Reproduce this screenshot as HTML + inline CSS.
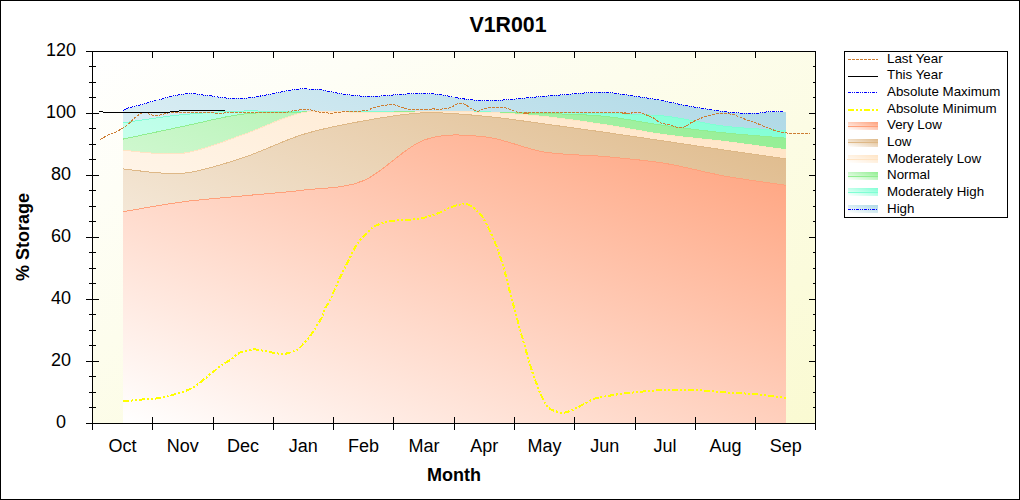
<!DOCTYPE html>
<html><head><meta charset="utf-8"><style>
html,body{margin:0;padding:0;background:#fff;}
body{width:1020px;height:500px;overflow:hidden;}
svg{display:block;}
text{font-family:"Liberation Sans",sans-serif;fill:#000;}
</style></head><body>
<svg width="1020" height="500" viewBox="0 0 1020 500">
<defs>
<linearGradient id="gbg" x1="0" y1="0" x2="1" y2="1"><stop offset="0" stop-color="#ffffff"/><stop offset="1" stop-color="rgb(250,250,210)"/></linearGradient>
<linearGradient id="g_vlow" x1="0" y1="1" x2="1" y2="0"><stop offset="0" stop-color="#ffffff"/><stop offset="1" stop-color="rgb(255,160,122)"/></linearGradient>
<linearGradient id="g_low" x1="0" y1="1" x2="1" y2="0"><stop offset="0" stop-color="#ffffff"/><stop offset="1" stop-color="rgb(222,184,135)"/></linearGradient>
<linearGradient id="g_mlow" x1="0" y1="1" x2="1" y2="0"><stop offset="0" stop-color="#ffffff"/><stop offset="1" stop-color="rgb(255,228,196)"/></linearGradient>
<linearGradient id="g_normal" x1="0" y1="1" x2="1" y2="0"><stop offset="0" stop-color="#ffffff"/><stop offset="1" stop-color="rgb(144,238,144)"/></linearGradient>
<linearGradient id="g_mhigh" x1="0" y1="1" x2="1" y2="0"><stop offset="0" stop-color="#ffffff"/><stop offset="1" stop-color="rgb(127,255,212)"/></linearGradient>
<linearGradient id="g_high" x1="0" y1="1" x2="1" y2="0"><stop offset="0" stop-color="#ffffff"/><stop offset="1" stop-color="rgb(173,216,230)"/></linearGradient>
<clipPath id="clipPlot"><rect x="92" y="51" width="724" height="373"/></clipPath>
</defs>
<rect x="0.5" y="0.5" width="1019" height="499" fill="#fff" stroke="#000" stroke-width="1"/>
<text x="508" y="32" font-size="21.33" font-weight="bold" text-anchor="middle">V1R001</text>
<rect x="92" y="51" width="723" height="372" fill="url(#gbg)"/>
<g clip-path="url(#clipPlot)">
<path d="M123.00,110.40 C124.17,109.92 127.17,108.38 130.00,107.50 C132.83,106.62 136.67,106.02 140.00,105.10 C143.33,104.18 146.67,102.92 150.00,102.00 C153.33,101.08 156.67,100.48 160.00,99.60 C163.33,98.72 166.67,97.52 170.00,96.70 C173.33,95.88 176.67,95.25 180.00,94.70 C183.33,94.15 186.67,93.40 190.00,93.40 C193.33,93.40 196.67,94.32 200.00,94.70 C203.33,95.08 206.67,95.27 210.00,95.70 C213.33,96.13 216.67,96.87 220.00,97.30 C223.33,97.73 226.67,98.13 230.00,98.30 C233.33,98.47 236.67,98.40 240.00,98.30 C243.33,98.20 246.67,98.07 250.00,97.70 C253.33,97.33 256.67,96.68 260.00,96.10 C263.33,95.52 266.67,94.85 270.00,94.20 C273.33,93.55 276.67,92.87 280.00,92.20 C283.33,91.53 286.67,90.75 290.00,90.20 C293.33,89.65 297.50,89.18 300.00,88.90 C302.50,88.62 303.33,88.43 305.00,88.50 C306.67,88.57 307.50,89.12 310.00,89.30 C312.50,89.48 315.00,88.88 320.00,89.60 C325.00,90.32 333.33,92.53 340.00,93.60 C346.67,94.67 353.33,95.60 360.00,96.00 C366.67,96.40 373.33,96.27 380.00,96.00 C386.67,95.73 393.33,94.83 400.00,94.40 C406.67,93.97 413.33,93.37 420.00,93.40 C426.67,93.43 433.33,93.77 440.00,94.60 C446.67,95.43 453.33,97.43 460.00,98.40 C466.67,99.37 473.33,100.10 480.00,100.40 C486.67,100.70 493.33,100.50 500.00,100.20 C506.67,99.90 513.33,99.20 520.00,98.60 C526.67,98.00 533.33,97.20 540.00,96.60 C546.67,96.00 553.33,95.53 560.00,95.00 C566.67,94.47 575.00,93.80 580.00,93.40 C585.00,93.00 585.00,92.73 590.00,92.60 C595.00,92.47 605.00,92.37 610.00,92.60 C615.00,92.83 615.00,93.27 620.00,94.00 C625.00,94.73 633.33,96.00 640.00,97.00 C646.67,98.00 653.33,98.77 660.00,100.00 C666.67,101.23 673.33,103.07 680.00,104.40 C686.67,105.73 693.33,106.90 700.00,108.00 C706.67,109.10 713.33,110.17 720.00,111.00 C726.67,111.83 733.33,112.67 740.00,113.00 C746.67,113.33 755.67,113.17 760.00,113.00 C764.33,112.83 761.67,112.17 766.00,112.00 C770.33,111.83 782.67,112.00 786.00,112.00 L786,423 L123,423 Z" fill="url(#g_high)" shape-rendering="crispEdges"/>
<path d="M123.00,122.83 C132.96,121.46 162.75,116.56 182.75,114.59 C202.75,112.62 222.92,111.46 243.00,111.03 C263.08,110.60 283.17,111.84 303.25,112.00 C323.33,112.16 343.42,111.97 363.50,111.97 C383.58,111.97 403.67,112.03 423.75,112.03 C443.83,112.03 463.92,111.86 484.00,111.95 C504.08,112.04 524.17,112.29 544.25,112.56 C564.33,112.83 584.42,112.96 604.50,113.55 C624.58,114.14 644.67,113.96 664.75,116.08 C684.83,118.20 704.79,123.86 725.00,126.28 C745.21,128.70 775.83,129.89 786.00,130.61 L786,423 L123,423 Z" fill="url(#g_mhigh)" shape-rendering="crispEdges"/>
<path d="M123.00,122.83 C132.96,121.46 162.75,116.56 182.75,114.59 C202.75,112.62 222.92,111.46 243.00,111.03 C263.08,110.60 283.17,111.84 303.25,112.00 C323.33,112.16 343.42,111.97 363.50,111.97 C383.58,111.97 403.67,112.03 423.75,112.03 C443.83,112.03 463.92,111.86 484.00,111.95 C504.08,112.04 524.17,112.29 544.25,112.56 C564.33,112.83 584.42,112.96 604.50,113.55 C624.58,114.14 644.67,113.96 664.75,116.08 C684.83,118.20 704.79,123.86 725.00,126.28 C745.21,128.70 775.83,129.89 786.00,130.61" fill="none" stroke="rgb(127,255,212)" stroke-width="1" shape-rendering="crispEdges"/>
<path d="M123.00,139.11 C132.96,137.00 162.75,130.64 182.75,126.47 C202.75,122.30 222.92,116.52 243.00,114.11 C263.08,111.70 283.17,112.33 303.25,111.99 C323.33,111.65 343.42,112.06 363.50,112.06 C383.58,112.06 403.67,111.96 423.75,111.98 C443.83,112.00 463.92,111.91 484.00,112.16 C504.08,112.41 524.17,112.79 544.25,113.48 C564.33,114.17 584.42,114.30 604.50,116.32 C624.58,118.34 644.67,122.82 664.75,125.59 C684.83,128.36 704.79,130.84 725.00,132.94 C745.21,135.03 775.83,137.29 786.00,138.16 L786,423 L123,423 Z" fill="url(#g_normal)" shape-rendering="crispEdges"/>
<path d="M123.00,139.11 C132.96,137.00 162.75,130.64 182.75,126.47 C202.75,122.30 222.92,116.52 243.00,114.11 C263.08,111.70 283.17,112.33 303.25,111.99 C323.33,111.65 343.42,112.06 363.50,112.06 C383.58,112.06 403.67,111.96 423.75,111.98 C443.83,112.00 463.92,111.91 484.00,112.16 C504.08,112.41 524.17,112.79 544.25,113.48 C564.33,114.17 584.42,114.30 604.50,116.32 C624.58,118.34 644.67,122.82 664.75,125.59 C684.83,128.36 704.79,130.84 725.00,132.94 C745.21,135.03 775.83,137.29 786.00,138.16" fill="none" stroke="rgb(144,238,144)" stroke-width="1" shape-rendering="crispEdges"/>
<path d="M123.00,150.30 C132.96,150.80 162.75,155.89 182.75,153.29 C202.75,150.69 222.92,141.48 243.00,134.70 C263.08,127.92 283.17,116.33 303.25,112.62 C323.33,108.91 343.42,112.56 363.50,112.45 C383.58,112.34 403.67,111.98 423.75,111.95 C443.83,111.92 463.92,111.51 484.00,112.27 C504.08,113.03 524.17,114.42 544.25,116.49 C564.33,118.56 584.42,121.63 604.50,124.68 C624.58,127.73 644.67,131.96 664.75,134.77 C684.83,137.58 704.79,139.03 725.00,141.53 C745.21,144.03 775.83,148.37 786.00,149.74 L786,423 L123,423 Z" fill="url(#g_mlow)" shape-rendering="crispEdges"/>
<path d="M123.00,150.30 C132.96,150.80 162.75,155.89 182.75,153.29 C202.75,150.69 222.92,141.48 243.00,134.70 C263.08,127.92 283.17,116.33 303.25,112.62 C323.33,108.91 343.42,112.56 363.50,112.45 C383.58,112.34 403.67,111.98 423.75,111.95 C443.83,111.92 463.92,111.51 484.00,112.27 C504.08,113.03 524.17,114.42 544.25,116.49 C564.33,118.56 584.42,121.63 604.50,124.68 C624.58,127.73 644.67,131.96 664.75,134.77 C684.83,137.58 704.79,139.03 725.00,141.53 C745.21,144.03 775.83,148.37 786.00,149.74" fill="none" stroke="rgb(255,228,196)" stroke-width="1" shape-rendering="crispEdges"/>
<path d="M123.00,168.94 C132.96,169.66 162.75,175.15 182.75,173.28 C202.75,171.41 222.92,164.20 243.00,157.72 C263.08,151.24 283.17,140.50 303.25,134.37 C323.33,128.24 343.42,124.51 363.50,120.92 C383.58,117.33 403.67,113.61 423.75,112.81 C443.83,112.02 463.92,114.30 484.00,116.15 C504.08,118.00 524.17,121.20 544.25,123.89 C564.33,126.58 584.42,129.38 604.50,132.26 C624.58,135.13 644.67,138.16 664.75,141.14 C684.83,144.12 704.79,147.17 725.00,150.13 C745.21,153.09 775.83,157.45 786.00,158.91 L786,423 L123,423 Z" fill="url(#g_low)" shape-rendering="crispEdges"/>
<path d="M123.00,168.94 C132.96,169.66 162.75,175.15 182.75,173.28 C202.75,171.41 222.92,164.20 243.00,157.72 C263.08,151.24 283.17,140.50 303.25,134.37 C323.33,128.24 343.42,124.51 363.50,120.92 C383.58,117.33 403.67,113.61 423.75,112.81 C443.83,112.02 463.92,114.30 484.00,116.15 C504.08,118.00 524.17,121.20 544.25,123.89 C564.33,126.58 584.42,129.38 604.50,132.26 C624.58,135.13 644.67,138.16 664.75,141.14 C684.83,144.12 704.79,147.17 725.00,150.13 C745.21,153.09 775.83,157.45 786.00,158.91" fill="none" stroke="rgb(222,184,135)" stroke-width="1" shape-rendering="crispEdges"/>
<path d="M123.00,211.77 C132.96,210.12 162.75,204.49 182.75,201.84 C202.75,199.19 222.92,197.84 243.00,195.89 C263.08,193.94 283.17,192.65 303.25,190.12 C323.33,187.59 343.42,189.01 363.50,180.69 C383.58,172.37 403.67,147.51 423.75,140.18 C443.83,132.85 463.92,134.75 484.00,136.72 C504.08,138.69 524.17,148.69 544.25,151.99 C564.33,155.29 584.42,154.63 604.50,156.52 C624.58,158.41 644.67,160.08 664.75,163.35 C684.83,166.62 704.79,172.47 725.00,176.13 C745.21,179.79 775.83,183.77 786.00,185.30 L786,423 L123,423 Z" fill="url(#g_vlow)" shape-rendering="crispEdges"/>
<path d="M123.00,211.77 C132.96,210.12 162.75,204.49 182.75,201.84 C202.75,199.19 222.92,197.84 243.00,195.89 C263.08,193.94 283.17,192.65 303.25,190.12 C323.33,187.59 343.42,189.01 363.50,180.69 C383.58,172.37 403.67,147.51 423.75,140.18 C443.83,132.85 463.92,134.75 484.00,136.72 C504.08,138.69 524.17,148.69 544.25,151.99 C564.33,155.29 584.42,154.63 604.50,156.52 C624.58,158.41 644.67,160.08 664.75,163.35 C684.83,166.62 704.79,172.47 725.00,176.13 C745.21,179.79 775.83,183.77 786.00,185.30" fill="none" stroke="rgb(255,160,122)" stroke-width="1" shape-rendering="crispEdges"/>
<path d="M100.00,139.40 C101.67,138.53 107.50,135.37 110.00,134.20 C112.50,133.03 113.33,133.15 115.00,132.40 C116.67,131.65 118.33,130.67 120.00,129.70 C121.67,128.73 123.33,127.80 125.00,126.60 C126.67,125.40 128.33,124.00 130.00,122.50 C131.67,121.00 133.33,119.02 135.00,117.60 C136.67,116.18 138.50,114.90 140.00,114.00 C141.50,113.10 142.33,112.12 144.00,112.20 C145.67,112.28 148.17,113.95 150.00,114.50 C151.83,115.05 153.33,115.42 155.00,115.50 C156.67,115.58 158.33,115.28 160.00,115.00 C161.67,114.72 163.33,114.18 165.00,113.80 C166.67,113.42 167.50,112.88 170.00,112.70 C172.50,112.52 175.00,112.73 180.00,112.70 C185.00,112.67 194.67,112.52 200.00,112.50 C205.33,112.48 209.33,112.42 212.00,112.60 C214.67,112.78 214.33,113.43 216.00,113.60 C217.67,113.77 220.33,113.73 222.00,113.60 C223.67,113.47 223.00,112.95 226.00,112.80 C229.00,112.65 234.33,112.72 240.00,112.70 C245.67,112.68 252.50,112.77 260.00,112.70 C267.50,112.63 280.00,112.53 285.00,112.30 C290.00,112.07 288.33,111.58 290.00,111.30 C291.67,111.02 292.50,110.93 295.00,110.60 C297.50,110.27 302.50,109.45 305.00,109.30 C307.50,109.15 308.33,109.42 310.00,109.70 C311.67,109.98 313.33,110.60 315.00,111.00 C316.67,111.40 317.50,111.75 320.00,112.10 C322.50,112.45 326.67,113.07 330.00,113.10 C333.33,113.13 337.50,112.60 340.00,112.30 C342.50,112.00 341.67,111.50 345.00,111.30 C348.33,111.10 356.33,111.25 360.00,111.10 C363.67,110.95 364.50,111.05 367.00,110.40 C369.50,109.75 372.00,108.05 375.00,107.20 C378.00,106.35 382.00,105.72 385.00,105.30 C388.00,104.88 390.50,104.45 393.00,104.70 C395.50,104.95 398.00,106.18 400.00,106.80 C402.00,107.42 403.33,107.97 405.00,108.40 C406.67,108.83 405.83,109.23 410.00,109.40 C414.17,109.57 426.17,109.57 430.00,109.40 C433.83,109.23 431.83,108.40 433.00,108.40 C434.17,108.40 434.17,109.50 437.00,109.40 C439.83,109.30 447.00,108.55 450.00,107.80 C453.00,107.05 453.33,105.62 455.00,104.90 C456.67,104.18 458.33,103.57 460.00,103.50 C461.67,103.43 463.33,103.78 465.00,104.50 C466.67,105.22 468.00,106.67 470.00,107.80 C472.00,108.93 474.83,111.10 477.00,111.30 C479.17,111.50 480.83,109.65 483.00,109.00 C485.17,108.35 487.67,107.70 490.00,107.40 C492.33,107.10 494.83,107.20 497.00,107.20 C499.17,107.20 501.00,107.10 503.00,107.40 C505.00,107.70 507.00,108.32 509.00,109.00 C511.00,109.68 513.17,110.92 515.00,111.50 C516.83,112.08 517.83,112.17 520.00,112.50 C522.17,112.83 526.00,113.50 528.00,113.50 C530.00,113.50 516.67,112.67 532.00,112.50 C547.33,112.33 605.00,112.33 620.00,112.50 C635.00,112.67 620.33,113.33 622.00,113.50 C623.67,113.67 628.17,113.67 630.00,113.50 C631.83,113.33 631.33,112.67 633.00,112.50 C634.67,112.33 638.00,112.18 640.00,112.50 C642.00,112.82 643.33,113.73 645.00,114.40 C646.67,115.07 648.33,115.77 650.00,116.50 C651.67,117.23 653.33,117.77 655.00,118.80 C656.67,119.83 657.50,121.67 660.00,122.70 C662.50,123.73 667.00,124.22 670.00,125.00 C673.00,125.78 675.50,127.12 678.00,127.40 C680.50,127.68 683.00,127.38 685.00,126.70 C687.00,126.02 688.00,124.43 690.00,123.30 C692.00,122.17 694.50,121.00 697.00,119.90 C699.50,118.80 702.00,117.68 705.00,116.70 C708.00,115.72 712.17,114.57 715.00,114.00 C717.83,113.43 719.83,113.35 722.00,113.30 C724.17,113.25 725.83,113.40 728.00,113.70 C730.17,114.00 732.17,114.18 735.00,115.10 C737.83,116.02 741.67,117.95 745.00,119.20 C748.33,120.45 751.67,121.35 755.00,122.60 C758.33,123.85 761.67,125.38 765.00,126.70 C768.33,128.02 772.17,129.58 775.00,130.50 C777.83,131.42 780.17,131.85 782.00,132.20 C783.83,132.55 784.83,132.38 786.00,132.60 C787.17,132.82 786.67,133.33 789.00,133.50 C791.33,133.67 796.50,133.58 800.00,133.60 C803.50,133.62 808.33,133.60 810.00,133.60" fill="none" stroke="rgb(205,125,50)" stroke-width="1" stroke-dasharray="3 1" shape-rendering="crispEdges"/>
<path d="M123.00,110.40 C124.17,109.92 127.17,108.38 130.00,107.50 C132.83,106.62 136.67,106.02 140.00,105.10 C143.33,104.18 146.67,102.92 150.00,102.00 C153.33,101.08 156.67,100.48 160.00,99.60 C163.33,98.72 166.67,97.52 170.00,96.70 C173.33,95.88 176.67,95.25 180.00,94.70 C183.33,94.15 186.67,93.40 190.00,93.40 C193.33,93.40 196.67,94.32 200.00,94.70 C203.33,95.08 206.67,95.27 210.00,95.70 C213.33,96.13 216.67,96.87 220.00,97.30 C223.33,97.73 226.67,98.13 230.00,98.30 C233.33,98.47 236.67,98.40 240.00,98.30 C243.33,98.20 246.67,98.07 250.00,97.70 C253.33,97.33 256.67,96.68 260.00,96.10 C263.33,95.52 266.67,94.85 270.00,94.20 C273.33,93.55 276.67,92.87 280.00,92.20 C283.33,91.53 286.67,90.75 290.00,90.20 C293.33,89.65 297.50,89.18 300.00,88.90 C302.50,88.62 303.33,88.43 305.00,88.50 C306.67,88.57 307.50,89.12 310.00,89.30 C312.50,89.48 315.00,88.88 320.00,89.60 C325.00,90.32 333.33,92.53 340.00,93.60 C346.67,94.67 353.33,95.60 360.00,96.00 C366.67,96.40 373.33,96.27 380.00,96.00 C386.67,95.73 393.33,94.83 400.00,94.40 C406.67,93.97 413.33,93.37 420.00,93.40 C426.67,93.43 433.33,93.77 440.00,94.60 C446.67,95.43 453.33,97.43 460.00,98.40 C466.67,99.37 473.33,100.10 480.00,100.40 C486.67,100.70 493.33,100.50 500.00,100.20 C506.67,99.90 513.33,99.20 520.00,98.60 C526.67,98.00 533.33,97.20 540.00,96.60 C546.67,96.00 553.33,95.53 560.00,95.00 C566.67,94.47 575.00,93.80 580.00,93.40 C585.00,93.00 585.00,92.73 590.00,92.60 C595.00,92.47 605.00,92.37 610.00,92.60 C615.00,92.83 615.00,93.27 620.00,94.00 C625.00,94.73 633.33,96.00 640.00,97.00 C646.67,98.00 653.33,98.77 660.00,100.00 C666.67,101.23 673.33,103.07 680.00,104.40 C686.67,105.73 693.33,106.90 700.00,108.00 C706.67,109.10 713.33,110.17 720.00,111.00 C726.67,111.83 733.33,112.67 740.00,113.00 C746.67,113.33 755.67,113.17 760.00,113.00 C764.33,112.83 761.67,112.17 766.00,112.00 C770.33,111.83 782.67,112.00 786.00,112.00" fill="none" stroke="#0000ff" stroke-width="1" stroke-dasharray="3 1 1 1 1 1" shape-rendering="crispEdges"/>
<path d="M123.00,401.40 C125.83,401.12 133.83,400.27 140.00,399.70 C146.17,399.13 154.17,398.90 160.00,398.00 C165.83,397.10 170.00,395.80 175.00,394.30 C180.00,392.80 185.83,390.97 190.00,389.00 C194.17,387.03 196.67,384.93 200.00,382.50 C203.33,380.07 206.67,377.05 210.00,374.40 C213.33,371.75 216.67,369.00 220.00,366.60 C223.33,364.20 226.67,362.33 230.00,360.00 C233.33,357.67 236.67,354.27 240.00,352.60 C243.33,350.93 247.50,350.53 250.00,350.00 C252.50,349.47 252.50,349.23 255.00,349.40 C257.50,349.57 261.67,350.40 265.00,351.00 C268.33,351.60 271.67,352.53 275.00,353.00 C278.33,353.47 281.67,354.20 285.00,353.80 C288.33,353.40 292.50,351.65 295.00,350.60 C297.50,349.55 297.50,349.93 300.00,347.50 C302.50,345.07 306.50,340.79 310.00,336.00 C313.50,331.21 318.50,323.29 321.00,318.75 C323.50,314.21 323.50,311.88 325.00,308.75 C326.50,305.62 328.33,303.33 330.00,300.00 C331.67,296.67 333.33,292.50 335.00,288.75 C336.67,285.00 338.33,281.04 340.00,277.50 C341.67,273.96 343.33,270.83 345.00,267.50 C346.67,264.17 348.33,260.83 350.00,257.50 C351.67,254.17 353.33,250.42 355.00,247.50 C356.67,244.58 358.33,242.08 360.00,240.00 C361.67,237.92 363.33,236.67 365.00,235.00 C366.67,233.33 368.33,231.50 370.00,230.00 C371.67,228.50 372.50,227.25 375.00,226.00 C377.50,224.75 381.67,223.42 385.00,222.50 C388.33,221.58 391.67,220.92 395.00,220.50 C398.33,220.08 400.83,220.29 405.00,220.00 C409.17,219.71 415.83,219.42 420.00,218.75 C424.17,218.08 426.67,217.04 430.00,216.00 C433.33,214.96 436.67,213.92 440.00,212.50 C443.33,211.08 446.67,208.83 450.00,207.50 C453.33,206.17 457.50,205.04 460.00,204.50 C462.50,203.96 463.33,204.08 465.00,204.25 C466.67,204.42 467.50,203.92 470.00,205.50 C472.50,207.08 477.17,210.50 480.00,213.75 C482.83,217.00 484.50,220.21 487.00,225.00 C489.50,229.79 492.83,237.33 495.00,242.50 C497.17,247.67 498.33,251.00 500.00,256.00 C501.67,261.00 503.33,266.42 505.00,272.50 C506.67,278.58 508.33,286.08 510.00,292.50 C511.67,298.92 513.33,304.85 515.00,311.00 C516.67,317.15 518.33,323.40 520.00,329.40 C521.67,335.40 523.33,341.12 525.00,347.00 C526.67,352.88 528.33,359.30 530.00,364.70 C531.67,370.10 533.33,374.75 535.00,379.40 C536.67,384.05 538.33,388.67 540.00,392.60 C541.67,396.53 543.33,400.30 545.00,403.00 C546.67,405.70 548.33,407.47 550.00,408.80 C551.67,410.13 553.33,410.37 555.00,411.00 C556.67,411.63 558.33,412.33 560.00,412.60 C561.67,412.87 563.33,412.87 565.00,412.60 C566.67,412.33 568.33,411.63 570.00,411.00 C571.67,410.37 572.50,410.05 575.00,408.80 C577.50,407.55 581.67,405.22 585.00,403.50 C588.33,401.78 591.67,399.67 595.00,398.50 C598.33,397.33 600.83,397.25 605.00,396.50 C609.17,395.75 614.17,394.78 620.00,394.00 C625.83,393.22 633.33,392.42 640.00,391.80 C646.67,391.18 653.33,390.65 660.00,390.30 C666.67,389.95 673.33,389.70 680.00,389.70 C686.67,389.70 693.33,389.92 700.00,390.30 C706.67,390.68 713.33,391.52 720.00,392.00 C726.67,392.48 733.33,392.75 740.00,393.20 C746.67,393.65 754.17,394.15 760.00,394.70 C765.83,395.25 770.67,395.95 775.00,396.50 C779.33,397.05 784.17,397.75 786.00,398.00" fill="none" stroke="#ffff00" stroke-width="2" stroke-dasharray="6 2 2 2 2 2" shape-rendering="crispEdges"/>
<path d="M99,111.5 L103,111.5 M103,112.5 L170,112.5 M170,111.5 L179,111.5 M179,110.5 L225,110.5" fill="none" stroke="#000" stroke-width="1" shape-rendering="crispEdges"/>
</g>
<path d="M86,51.5 L815,51.5 M86,423.5 L815,423.5 M92.5,51 L92.5,430 M815.5,51 L815.5,424 M86,423.5 L99,423.5 M809,423.5 L815,423.5 M89,407.5 L96,407.5 M813,407.5 L815,407.5 M89,392.5 L96,392.5 M813,392.5 L815,392.5 M89,376.5 L96,376.5 M813,376.5 L815,376.5 M86,361.5 L99,361.5 M809,361.5 L815,361.5 M89,345.5 L96,345.5 M813,345.5 L815,345.5 M89,330.5 L96,330.5 M813,330.5 L815,330.5 M89,314.5 L96,314.5 M813,314.5 L815,314.5 M86,299.5 L99,299.5 M809,299.5 L815,299.5 M89,283.5 L96,283.5 M813,283.5 L815,283.5 M89,268.5 L96,268.5 M813,268.5 L815,268.5 M89,252.5 L96,252.5 M813,252.5 L815,252.5 M86,237.5 L99,237.5 M809,237.5 L815,237.5 M89,221.5 L96,221.5 M813,221.5 L815,221.5 M89,206.5 L96,206.5 M813,206.5 L815,206.5 M89,190.5 L96,190.5 M813,190.5 L815,190.5 M86,175.5 L99,175.5 M809,175.5 L815,175.5 M89,159.5 L96,159.5 M813,159.5 L815,159.5 M89,144.5 L96,144.5 M813,144.5 L815,144.5 M89,128.5 L96,128.5 M813,128.5 L815,128.5 M86,113.5 L99,113.5 M809,113.5 L815,113.5 M89,97.5 L96,97.5 M813,97.5 L815,97.5 M89,82.5 L96,82.5 M813,82.5 L815,82.5 M89,66.5 L96,66.5 M813,66.5 L815,66.5 M86,51.5 L99,51.5 M809,51.5 L815,51.5 M92.5,417 L92.5,430 M92.5,51 L92.5,58 M152.5,417 L152.5,430 M152.5,51 L152.5,58 M213.5,417 L213.5,430 M213.5,51 L213.5,58 M273.5,417 L273.5,430 M273.5,51 L273.5,58 M333.5,417 L333.5,430 M333.5,51 L333.5,58 M393.5,417 L393.5,430 M393.5,51 L393.5,58 M454.5,417 L454.5,430 M454.5,51 L454.5,58 M514.5,417 L514.5,430 M514.5,51 L514.5,58 M574.5,417 L574.5,430 M574.5,51 L574.5,58 M635.5,417 L635.5,430 M635.5,51 L635.5,58 M695.5,417 L695.5,430 M695.5,51 L695.5,58 M755.5,417 L755.5,430 M755.5,51 L755.5,58 M815.5,417 L815.5,430 M815.5,51 L815.5,58" fill="none" stroke="#000" stroke-width="1" shape-rendering="crispEdges"/>
<text x="61" y="428.00" font-size="18" text-anchor="middle">0</text>
<text x="61" y="366.00" font-size="18" text-anchor="middle">20</text>
<text x="61" y="304.00" font-size="18" text-anchor="middle">40</text>
<text x="61" y="242.00" font-size="18" text-anchor="middle">60</text>
<text x="61" y="180.00" font-size="18" text-anchor="middle">80</text>
<text x="61" y="118.00" font-size="18" text-anchor="middle">100</text>
<text x="61" y="56.00" font-size="18" text-anchor="middle">120</text>
<text x="122.40" y="452" font-size="18" text-anchor="middle">Oct</text>
<text x="182.70" y="452" font-size="18" text-anchor="middle">Nov</text>
<text x="243.00" y="452" font-size="18" text-anchor="middle">Dec</text>
<text x="303.30" y="452" font-size="18" text-anchor="middle">Jan</text>
<text x="363.60" y="452" font-size="18" text-anchor="middle">Feb</text>
<text x="423.90" y="452" font-size="18" text-anchor="middle">Mar</text>
<text x="484.20" y="452" font-size="18" text-anchor="middle">Apr</text>
<text x="544.50" y="452" font-size="18" text-anchor="middle">May</text>
<text x="604.80" y="452" font-size="18" text-anchor="middle">Jun</text>
<text x="665.10" y="452" font-size="18" text-anchor="middle">Jul</text>
<text x="725.40" y="452" font-size="18" text-anchor="middle">Aug</text>
<text x="785.70" y="452" font-size="18" text-anchor="middle">Sep</text>
<text x="454" y="481" font-size="18" font-weight="bold" text-anchor="middle">Month</text>
<text transform="translate(29,237) rotate(-90)" x="0" y="0" font-size="18" font-weight="bold" text-anchor="middle">% Storage</text>
<rect x="844.5" y="51.5" width="163" height="166" fill="#fff" stroke="#000" stroke-width="1"/>
<text x="887" y="62.60" font-size="13.33">Last Year</text>
<path d="M848,59.5 L878,59.5" stroke="rgb(205,125,50)" stroke-width="1" stroke-dasharray="3 1" shape-rendering="crispEdges"/>
<text x="887" y="79.27" font-size="13.33">This Year</text>
<path d="M848,76.5 L878,76.5" stroke="#000" stroke-width="1" shape-rendering="crispEdges"/>
<text x="887" y="95.93" font-size="13.33">Absolute Maximum</text>
<path d="M848,92.5 L878,92.5" stroke="#00f" stroke-width="1" stroke-dasharray="3 1 1 1 1 1" shape-rendering="crispEdges"/>
<text x="887" y="112.60" font-size="13.33">Absolute Minimum</text>
<path d="M848,110 L878,110" stroke="#ff0" stroke-width="2" stroke-dasharray="6 2 2 2 2 2" shape-rendering="crispEdges"/>
<text x="887" y="129.27" font-size="13.33">Very Low</text>
<rect x="848" y="122" width="30" height="8" fill="url(#g_vlow)" shape-rendering="crispEdges"/>
<path d="M848,126.5 L878,126.5" stroke="rgb(255,160,122)" stroke-width="1" shape-rendering="crispEdges"/>
<text x="887" y="145.94" font-size="13.33">Low</text>
<rect x="848" y="139" width="30" height="8" fill="url(#g_low)" shape-rendering="crispEdges"/>
<path d="M848,142.5 L878,142.5" stroke="rgb(222,184,135)" stroke-width="1" shape-rendering="crispEdges"/>
<text x="887" y="162.60" font-size="13.33">Moderately Low</text>
<rect x="848" y="155" width="30" height="8" fill="url(#g_mlow)" shape-rendering="crispEdges"/>
<path d="M847,159.5 L878,159.5" stroke="rgb(255,228,196)" stroke-width="1" shape-rendering="crispEdges"/>
<text x="887" y="179.27" font-size="13.33">Normal</text>
<rect x="848" y="172" width="30" height="8" fill="url(#g_normal)" shape-rendering="crispEdges"/>
<path d="M848,176.5 L878,176.5" stroke="rgb(144,238,144)" stroke-width="1" shape-rendering="crispEdges"/>
<text x="887" y="195.94" font-size="13.33">Moderately High</text>
<rect x="848" y="188" width="30" height="8" fill="url(#g_mhigh)" shape-rendering="crispEdges"/>
<path d="M848,192.5 L878,192.5" stroke="rgb(127,255,212)" stroke-width="1" shape-rendering="crispEdges"/>
<text x="887" y="212.60" font-size="13.33">High</text>
<rect x="848" y="205" width="30" height="8" fill="url(#g_high)" shape-rendering="crispEdges"/>
<path d="M848,209.5 L878,209.5" stroke="#00f" stroke-width="1" stroke-dasharray="3 1 1 1 1 1" shape-rendering="crispEdges"/>
</svg>
</body></html>
